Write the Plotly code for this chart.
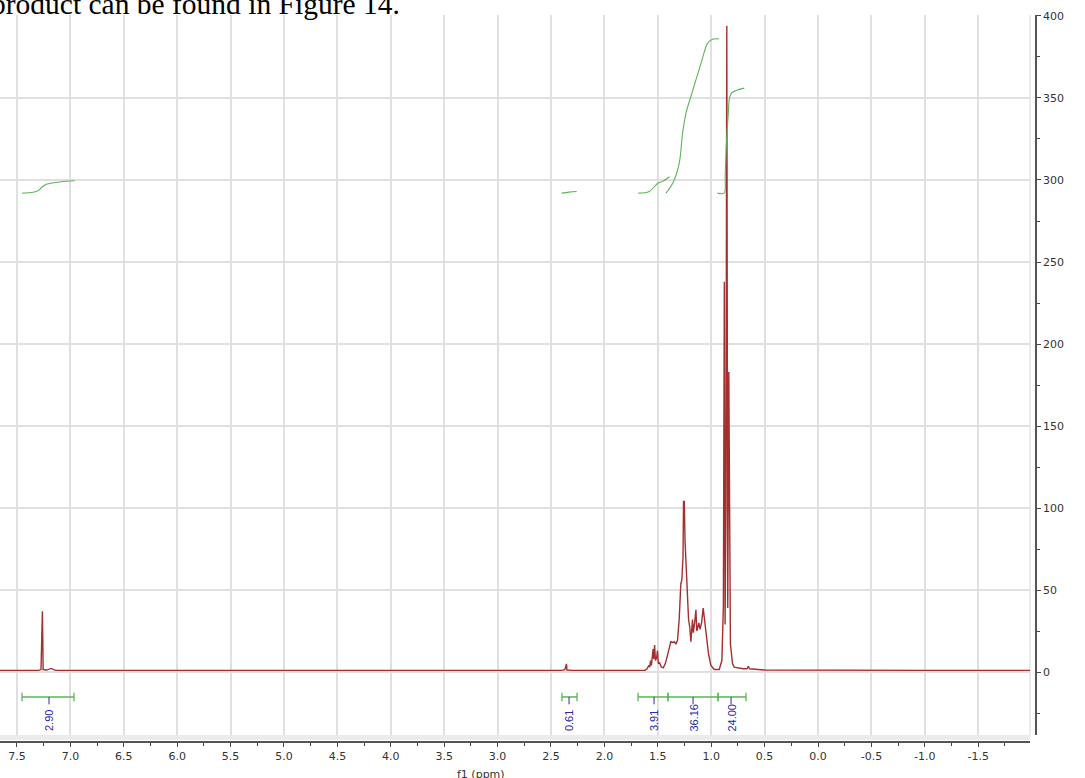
import plotly.graph_objects as go

# ---------------- data ----------------
# 1H NMR spectrum (ppm, intensity)
spec_ppm = [7.66, 7.30, 7.275, 7.268, 7.262, 7.255, 7.22, 7.18, 7.14, 6.5, 5.0, 3.0,
            2.40, 2.37, 2.362, 2.355, 2.35, 2.30,
            1.62, 1.60, 1.585, 1.575, 1.568, 1.56, 1.55, 1.544, 1.538, 1.53, 1.522,
            1.51, 1.503, 1.495, 1.485, 1.467, 1.45, 1.43, 1.41, 1.39, 1.378, 1.36,
            1.346, 1.33, 1.315, 1.30, 1.284, 1.275, 1.264, 1.259, 1.252, 1.245,
            1.236, 1.225, 1.212, 1.20, 1.19, 1.175, 1.168, 1.155, 1.143, 1.135,
            1.115, 1.105, 1.09, 1.075, 1.06, 1.044, 1.025, 1.003, 0.972, 0.925,
            0.90, 0.886, 0.877, 0.870, 0.862, 0.854, 0.845, 0.835, 0.828, 0.82,
            0.80, 0.785, 0.70, 0.665, 0.652, 0.64, 0.50, 0.0, -1.0, -1.99]
spec_int = [1.0, 1.0, 1.5, 37, 37, 1.5, 1.2, 2.2, 1.0, 1.0, 1.0, 1.0,
            1.0, 1.5, 5, 5, 1.2, 1.0,
            1.0, 2, 4, 3, 7, 4, 10, 14, 8, 16.5, 7,
            9, 13, 5, 6, 3, 2.5, 5, 10, 15, 18.5, 18,
            18.5, 17, 19.5, 31.7, 54, 56, 70, 104, 104, 80,
            68, 44, 32, 27, 18.5, 32, 24, 30, 38, 25,
            30, 26, 30, 39, 30, 21, 11, 4, 1.5, 1.5,
            7, 40, 238, 29, 100, 394, 39, 183, 45, 17,
            5, 3, 2, 2, 3.5, 2, 1.2, 1.0, 1.0, 1.0]

# integral curves (ppm, cumulative value)
int1_ppm = [7.45, 7.35, 7.30, 7.26, 7.22, 7.10, 6.96]
int1_val = [292, 292.5, 293.5, 296, 297.5, 298.8, 299.5]
int2_ppm = [2.40, 2.33, 2.26]
int2_val = [292, 292.6, 293]
int3_ppm = [1.682, 1.58, 1.50, 1.46, 1.39]
int3_val = [292, 293, 298, 299, 302]
int4_ppm = [1.423, 1.36, 1.30, 1.268, 1.236, 1.19, 1.143, 1.096, 1.065, 1.035, 0.988, 0.925]
int4_val = [292, 298, 310, 328.5, 340.7, 351, 361, 371, 378, 383.3, 385.8, 386]
int5_ppm = [0.941, 0.879, 0.869, 0.857, 0.841, 0.825, 0.80, 0.69]
int5_val = [292, 292, 303, 323, 339.6, 351, 353.5, 356]

# integration regions and labels
reg_start = [7.453, 2.397, 1.685, 1.404, 0.936]
reg_end = [6.966, 2.256, 1.404, 0.936, 0.674]
reg_center = [7.200, 2.331, 1.535, 1.170, 0.814]
reg_label = ["2.90", "0.61", "3.91", "36.16", "24.00"]

x_ticks = [7.5, 7.0, 6.5, 6.0, 5.5, 5.0, 4.5, 4.0, 3.5, 3.0, 2.5, 2.0, 1.5, 1.0,
           0.5, 0.0, -0.5, -1.0, -1.5]
x_ticklabels = ["7.5", "7.0", "6.5", "6.0", "5.5", "5.0", "4.5", "4.0", "3.5", "3.0",
                "2.5", "2.0", "1.5", "1.0", "0.5", "0.0", "-0.5", "-1.0", "-1.5"]
y_ticks = [0, 50, 100, 150, 200, 250, 300, 350, 400]

# ---------------- figure ----------------
GREEN = "#5DB35D"
BLUE = "#2A2AA8"
RED = "#A3302F"
BAR_Y = -15.2

fig = go.Figure()

fig.add_trace(go.Scatter(x=spec_ppm, y=spec_int, mode="lines",
                         line=dict(color=RED, width=1.4), hoverinfo="skip"))

for px_, vy in [(int1_ppm, int1_val), (int2_ppm, int2_val), (int3_ppm, int3_val),
                (int4_ppm, int4_val), (int5_ppm, int5_val)]:
    fig.add_trace(go.Scatter(x=px_, y=vy, mode="lines", line_shape="spline",
                             line=dict(color=GREEN, width=1.1), hoverinfo="skip"))

for s, e, c, lab in zip(reg_start, reg_end, reg_center, reg_label):
    fig.add_trace(go.Scatter(x=[s, e], y=[BAR_Y, BAR_Y], mode="lines+markers",
                             line=dict(color=GREEN, width=1.5),
                             marker=dict(symbol="line-ns-open", size=6,
                                         line=dict(color=GREEN, width=1.3)),
                             hoverinfo="skip"))
    fig.add_trace(go.Scatter(x=[c, c], y=[BAR_Y, BAR_Y - 4.5], mode="lines",
                             line=dict(color=BLUE, width=1), hoverinfo="skip"))
    fig.add_annotation(x=c, y=-37.5, xref="x", yref="y", text=lab, textangle=-90,
                       showarrow=False, xanchor="center", yanchor="bottom",
                       font=dict(family="Liberation Sans", size=11, color=BLUE))

# header text cut at top of page
fig.add_annotation(x=-11 / 1036, y=1 - 7 / 727, xref="paper", yref="paper",
                   text="product can be found in Figure 14.", showarrow=False,
                   xanchor="left", yanchor="bottom",
                   font=dict(family="Liberation Serif", size=29.5, color="black"))

# axis title
fig.add_annotation(x=481 / 1036, y=-32 / 727, xref="paper", yref="paper",
                   text="f1 (ppm)", showarrow=False, xanchor="center", yanchor="middle",
                   font=dict(family="DejaVu Sans", size=11, color="#333333"))

# light bands at the border of plot area
fig.add_shape(type="rect", xref="paper", yref="paper", x0=0, x1=1030 / 1036,
              y0=2 / 727, y1=7 / 727, fillcolor="#ebebeb", line_width=0, layer="below")
fig.add_shape(type="line", xref="paper", yref="paper", x0=1030 / 1036, x1=1030 / 1036,
              y0=7 / 727, y1=1, line=dict(color="#e6e6e6", width=1.5), layer="below")

fig.update_layout(
    width=1085, height=778,
    margin=dict(l=0, r=49, t=15, b=36, autoexpand=False),
    paper_bgcolor="white", plot_bgcolor="white",
    showlegend=False,
    xaxis=dict(range=[7.659, -1.985], domain=[0, 1030 / 1036], anchor="free", position=0,
               tickmode="array", tickvals=x_ticks, ticktext=x_ticklabels,
               ticks="outside", ticklen=4, tickcolor="#444444", tickwidth=1,
               showline=True, linecolor="#555555", linewidth=1.5,
               showgrid=True, gridcolor="#e0e0e0", gridwidth=1.5, zeroline=False,
               minor=dict(dtick=0.25, tick0=0, ticks="outside", ticklen=3,
                          tickcolor="#444444", showgrid=False),
               tickfont=dict(family="DejaVu Sans", size=11, color="#333333")),
    yaxis=dict(range=[-38.4, 400.6], domain=[7 / 727, 1], anchor="free", position=1,
               side="right", tickmode="array", tickvals=y_ticks,
               ticks="outside", ticklen=4, tickcolor="#444444",
               showline=True, linecolor="#555555", linewidth=1.5,
               showgrid=True, gridcolor="#e0e0e0", gridwidth=1.5, zeroline=False,
               minor=dict(dtick=25, tick0=0, ticks="outside", ticklen=3,
                          tickcolor="#444444", showgrid=False),
               tickfont=dict(family="DejaVu Sans", size=11, color="#333333")),
)

fig.write_html("out.html", config={"displayModeBar": False},
               post_script="document.body.style.margin='0';document.body.style.overflow='hidden';")
